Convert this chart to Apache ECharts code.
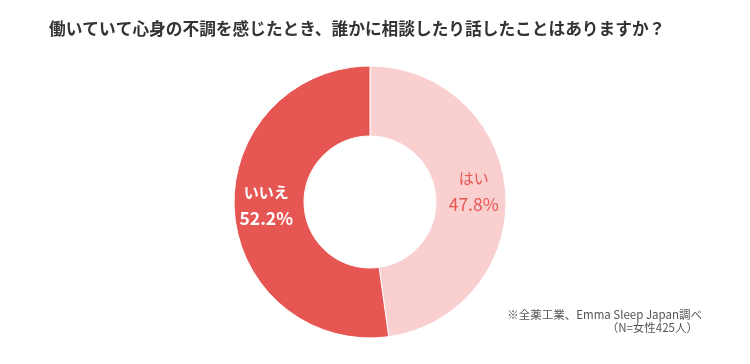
<!DOCTYPE html>
<html>
<head>
<meta charset="utf-8">
<script src="https://cdn.jsdelivr.net/npm/echarts@6/dist/echarts.min.js"></script>
<style>
html,body{margin:0;padding:0;background:#fff;}
#chart{width:750px;height:364px;}
</style>
</head>
<body>
<div id="chart"></div>
<script>
var titleText = '働いていて心身の不調を感じたとき、誰かに相談したり話したことはありますか？';
var categories = ['はい', 'いいえ'];
var values = [47.8, 52.2];
var noteLines = ['※全薬工業、Emma Sleep Japan調べ', '（N=女性425人）'];

var colors = ['#f9cfd0', '#e65653'];
var labelStyles = [
  { color: '#e65653', fontWeight: 'normal' },
  { color: '#ffffff', fontWeight: 'bold' }
];
var FONT = '"Noto Sans CJK JP", "Noto Sans", sans-serif';

var chart = echarts.init(document.getElementById('chart'));
var data = categories.map(function (c, i) {
  return {
    name: c,
    value: values[i],
    itemStyle: { color: colors[i] },
    label: {
      color: labelStyles[i].color,
      fontWeight: labelStyles[i].fontWeight
    }
  };
});

chart.setOption({
  backgroundColor: '#ffffff',
  animation: false,
  title: {
    text: titleText,
    left: 44,
    top: 15,
    textStyle: { fontSize: 16.7, fontWeight: 'bold', color: '#333333', fontFamily: FONT }
  },
  series: [{
    type: 'pie',
    center: [370, 202],
    radius: [66, 136],
    startAngle: 90,
    clockwise: true,
    avoidLabelOverlap: false,
    itemStyle: { borderColor: '#ffffff', borderWidth: 1 },
    label: {
      show: true,
      position: 'inside',
      formatter: '{n|{b}}\n{v|{c}%}',
      fontFamily: FONT,
      padding: [0, 0, 7, 0],
      rich: {
        n: { fontSize: 15, lineHeight: 26, fontFamily: FONT },
        v: { fontSize: 17.5, lineHeight: 26, fontFamily: FONT }
      }
    },
    labelLine: { show: false },
    emphasis: { disabled: true },
    data: data
  }],
  graphic: [
    {
      type: 'text', right: 48, top: 309,
      style: { text: noteLines[0], fontSize: 11.5, fill: '#555555', fontFamily: FONT, textAlign: 'right' }
    },
    {
      type: 'text', right: 52, top: 322,
      style: { text: noteLines[1], fontSize: 11.5, fill: '#555555', fontFamily: FONT, textAlign: 'right' }
    }
  ]
});
</script>
</body>
</html>
